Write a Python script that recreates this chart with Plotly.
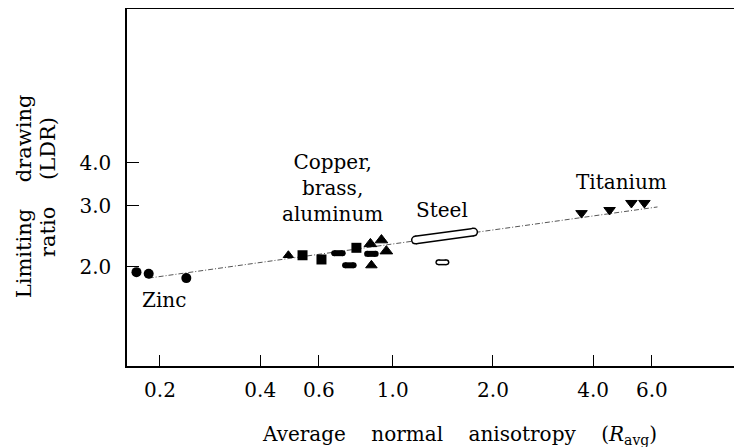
import math
import plotly.graph_objects as go

# ---- data ----
zinc_x = [0.170, 0.185, 0.240]
zinc_y = [1.93, 1.91, 1.855]

sq_x = [0.536, 0.611, 0.778]
sq_y = [2.16, 2.10, 2.27]

tri_x = [0.486, 0.857, 0.925, 0.957, 0.863]
tri_y = [2.16, 2.33, 2.39, 2.22, 2.02]
tri_size = [9, 11, 11, 11, 10]

ell_x = [0.687, 0.863, 0.741]
ell_y = [2.19, 2.18, 2.02]

steel_band_x = [1.17, 1.75]
steel_band_y = [2.39, 2.52]
steel_pt_x = [1.41]
steel_pt_y = [2.06]

ti_x = [3.69, 4.48, 5.21, 5.70]
ti_y = [2.86, 2.92, 3.06, 3.06]

fit_x = [0.185, 6.24]
fit_y = [1.855, 2.98]

x_ticks = [0.2, 0.4, 0.6, 1.0, 2.0, 4.0, 6.0]
x_ticktext = ["0.2", "0.4", "0.6", "1.0", "2.0", "4.0", "6.0"]
y_ticks = [2.0, 3.0, 4.0]
y_ticktext = ["2.0", "3.0", "4.0"]

labels = ["Zinc", "Copper,<br>brass,<br>aluminum", "Steel", "Titanium"]
label_x = [0.205, 0.66, 1.41, 4.85]
label_y = [1.60, 3.39, 2.92, 3.51]

FONT = "DejaVu Serif"
ELL = 1.03   # half-length factor of the elongated (elliptic) marks
SMALL = 1.028


def seg(xs, ys, f):
    X, Y = [], []
    for x, y in zip(xs, ys):
        X += [x / f, x * f, None]
        Y += [y, y, None]
    return X, Y


fig = go.Figure()

# dotted fit line
fig.add_trace(go.Scatter(x=fit_x, y=fit_y, mode="lines",
                         line=dict(color="#555555", width=1, dash="5px,2px,1px,2px"),
                         hoverinfo="skip"))

# zinc
fig.add_trace(go.Scatter(x=zinc_x, y=zinc_y, mode="markers",
                         marker=dict(symbol="circle", size=10, color="black", opacity=1)))
# squares
fig.add_trace(go.Scatter(x=sq_x, y=sq_y, mode="markers",
                         marker=dict(symbol="square", size=10, color="black", opacity=1)))
# triangles
fig.add_trace(go.Scatter(x=tri_x, y=tri_y, mode="markers",
                         marker=dict(symbol="triangle-up", size=tri_size, color="black",
                                     opacity=1, line=dict(color="black", width=1))))
# filled ellipses
ex, ey = seg(ell_x, ell_y, ELL)
fig.add_trace(go.Scatter(x=ex, y=ey, mode="lines+markers",
                         line=dict(color="black", width=6),
                         marker=dict(symbol="circle", size=6, color="black")))

# steel open capsule
fig.add_trace(go.Scatter(x=steel_band_x, y=steel_band_y, mode="lines+markers",
                         line=dict(color="black", width=9),
                         marker=dict(symbol="circle", size=9, color="black")))
fig.add_trace(go.Scatter(x=steel_band_x, y=steel_band_y, mode="lines+markers",
                         line=dict(color="white", width=6),
                         marker=dict(symbol="circle", size=6, color="white")))
# small open ellipse
sx, sy = seg(steel_pt_x, steel_pt_y, SMALL)
fig.add_trace(go.Scatter(x=sx, y=sy, mode="lines+markers",
                         line=dict(color="black", width=6),
                         marker=dict(symbol="circle", size=6, color="black")))
fig.add_trace(go.Scatter(x=sx, y=sy, mode="lines+markers",
                         line=dict(color="white", width=3),
                         marker=dict(symbol="circle", size=3, color="white")))

# titanium
fig.add_trace(go.Scatter(x=ti_x, y=ti_y, mode="markers",
                         marker=dict(symbol="triangle-down", size=10, color="black",
                                     opacity=1, line=dict(color="black", width=1))))

# labels (log axes: annotation positions are given in log10 units)
for t, x, y in zip(labels, label_x, label_y):
    fig.add_annotation(x=math.log10(x), y=math.log10(y), xref="x", yref="y",
                       text=t, showarrow=False,
                       font=dict(family=FONT, size=20, color="black"),
                       xanchor="center", yanchor="middle", align="center")

# y axis title (two rotated lines)
fig.add_annotation(
    x=-0.165, y=0.476, xref="paper", yref="paper",
    text="Limiting&nbsp;&nbsp;&nbsp;&nbsp;drawing",
    textangle=-90, showarrow=False, xanchor="center", yanchor="middle",
    font=dict(family=FONT, size=21, color="black"))
fig.add_annotation(
    x=-0.127, y=0.501, xref="paper", yref="paper",
    text="ratio&nbsp;&nbsp;&nbsp;&nbsp;(LDR)",
    textangle=-90, showarrow=False, xanchor="center", yanchor="middle",
    font=dict(family=FONT, size=21, color="black"))

# x axis title
fig.add_annotation(
    x=0.5345, y=-0.193, xref="paper", yref="paper",
    text="Average&nbsp;&nbsp;&nbsp;&nbsp;normal&nbsp;&nbsp;&nbsp;&nbsp;anisotropy&nbsp;&nbsp;&nbsp;&nbsp;(<i>R</i><sub>avg</sub>)",
    showarrow=False, xanchor="center", yanchor="middle",
    font=dict(family=FONT, size=20, color="black"))

# the page body has an 8 px margin: margins below compensate for it
fig.update_layout(
    width=742, height=447,
    margin=dict(l=119, r=0, t=1, b=89),
    paper_bgcolor="white", plot_bgcolor="white",
    showlegend=False,
    font=dict(family=FONT, size=20, color="black"),
    xaxis=dict(type="log", range=[-0.798, 1.073], automargin=False,
               tickvals=x_ticks, ticktext=x_ticktext,
               tickfont=dict(family=FONT, size=20),
               ticks="inside", ticklen=11, tickwidth=1.2, tickcolor="black",
               showline=True, linecolor="black", linewidth=1.5, mirror=True,
               showgrid=False, zeroline=False, ticklabelstandoff=5),
    yaxis=dict(type="log", range=[0.014, 1.047], automargin=False,
               tickvals=y_ticks, ticktext=y_ticktext,
               tickfont=dict(family=FONT, size=20),
               ticks="inside", ticklen=12, tickwidth=1.2, tickcolor="black",
               showline=True, linecolor="black", linewidth=1.5, mirror=False,
               showgrid=False, zeroline=False, ticklabelstandoff=10),
)

fig.write_html("out.html")
